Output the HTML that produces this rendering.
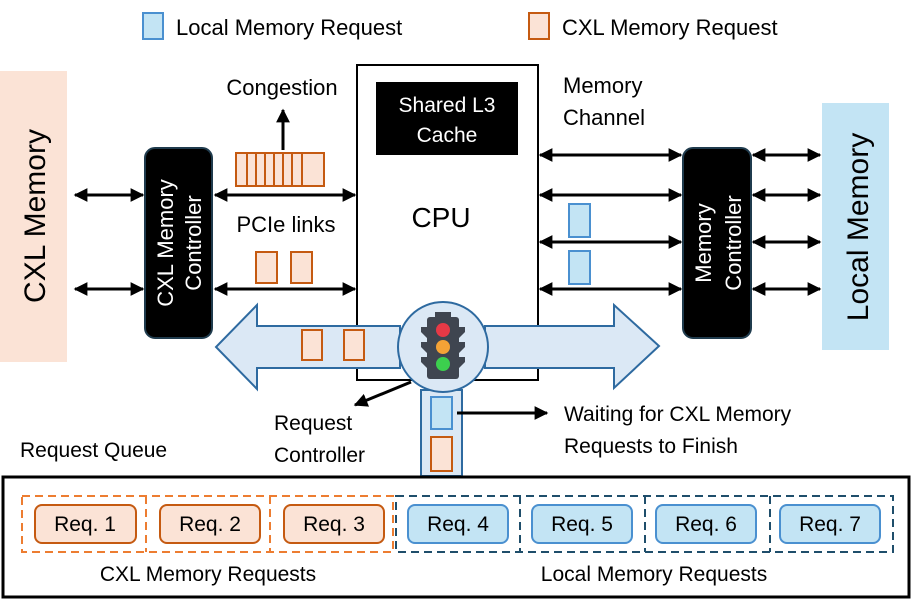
<!DOCTYPE html>
<html><head><meta charset="utf-8"><style>
body{margin:0;background:#fff}
svg{display:block;font-family:"Liberation Sans",sans-serif}
</style></head><body>
<svg width="913" height="604" viewBox="0 0 913 604" xmlns="http://www.w3.org/2000/svg">
<defs>
<marker id="a" viewBox="0 0 10 10" refX="9" refY="5" markerWidth="4.6" markerHeight="4.6" orient="auto-start-reverse"><path d="M0,0L10,5L0,10z" fill="#000"/></marker>
</defs>
<rect x="143" y="13" width="20" height="26" fill="#c3e4f4" stroke="#4a90d0" stroke-width="2"/>
<text x="176" y="35" font-size="22">Local Memory Request</text>
<rect x="529" y="13" width="20" height="26" fill="#fbe3d6" stroke="#c55a11" stroke-width="2"/>
<text x="562" y="35" font-size="22">CXL Memory Request</text>
<rect x="0" y="71" width="67" height="291" fill="#fbe3d6"/>
<text transform="translate(45,216) rotate(-90)" text-anchor="middle" font-size="30">CXL Memory</text>
<rect x="822" y="103" width="67" height="247" fill="#c3e4f4"/>
<text transform="translate(868,227) rotate(-90)" text-anchor="middle" font-size="30">Local Memory</text>
<rect x="145" y="148" width="67" height="190" rx="10" fill="#000" stroke="#1f3b4d" stroke-width="2"/>
<text transform="translate(173,243) rotate(-90)" text-anchor="middle" font-size="22" fill="#fff">CXL Memory</text>
<text transform="translate(201,243) rotate(-90)" text-anchor="middle" font-size="22" fill="#fff">Controller</text>
<rect x="683" y="148" width="68" height="190" rx="10" fill="#000" stroke="#1f3b4d" stroke-width="2"/>
<text transform="translate(711,243) rotate(-90)" text-anchor="middle" font-size="22" fill="#fff">Memory</text>
<text transform="translate(741,243) rotate(-90)" text-anchor="middle" font-size="22" fill="#fff">Controller</text>
<rect x="357" y="65" width="181" height="315" fill="#fff" stroke="#000" stroke-width="2"/>
<rect x="376" y="82" width="142" height="73" fill="#000"/>
<text x="447" y="112" text-anchor="middle" font-size="21" fill="#fff">Shared L3</text>
<text x="447" y="142" text-anchor="middle" font-size="21" fill="#fff">Cache</text>
<text x="441" y="227" text-anchor="middle" font-size="28">CPU</text>
<g stroke="#000" stroke-width="3" marker-start="url(#a)" marker-end="url(#a)">
<line x1="75" y1="195" x2="143" y2="195"/><line x1="75" y1="289" x2="143" y2="289"/>
<line x1="215" y1="195" x2="355" y2="195"/><line x1="215" y1="289" x2="355" y2="289"/>
<line x1="540" y1="155" x2="681" y2="155"/><line x1="540" y1="195" x2="681" y2="195"/>
<line x1="540" y1="242" x2="681" y2="242"/><line x1="540" y1="289" x2="681" y2="289"/>
<line x1="753" y1="155" x2="820" y2="155"/><line x1="753" y1="195" x2="820" y2="195"/>
<line x1="753" y1="242" x2="820" y2="242"/><line x1="753" y1="289" x2="820" y2="289"/>
</g>
<line x1="283" y1="150" x2="283" y2="110" stroke="#000" stroke-width="3" marker-end="url(#a)"/>
<text x="282" y="95" text-anchor="middle" font-size="22">Congestion</text>
<text x="563" y="93" font-size="22">Memory</text>
<text x="563" y="125" font-size="22">Channel</text>
<text x="286" y="232" text-anchor="middle" font-size="22">PCIe links</text>
<rect x="236" y="153" width="88" height="33" fill="#fbe3d6" stroke="#c55a11" stroke-width="2"/>
<g stroke="#c55a11" stroke-width="2"><line x1="247" y1="153" x2="247" y2="186"/><line x1="256" y1="153" x2="256" y2="186"/><line x1="265" y1="153" x2="265" y2="186"/><line x1="274" y1="153" x2="274" y2="186"/><line x1="283" y1="153" x2="283" y2="186"/><line x1="292" y1="153" x2="292" y2="186"/><line x1="302" y1="153" x2="302" y2="186"/></g>
<rect x="256" y="252" width="21" height="31" fill="#fbe3d6" stroke="#c55a11" stroke-width="2"/>
<rect x="291" y="252" width="21" height="31" fill="#fbe3d6" stroke="#c55a11" stroke-width="2"/>
<rect x="569" y="204" width="21" height="33" fill="#c3e4f4" stroke="#4a90d0" stroke-width="2"/>
<rect x="569" y="251" width="21" height="33" fill="#c3e4f4" stroke="#4a90d0" stroke-width="2"/>
<path d="M400,326 L257,326 L257,305 L216,347 L257,389 L257,368 L400,368 Z" fill="#dbe8f5" stroke="#2e6aa0" stroke-width="2"/>
<path d="M485,326 L614,326 L614,305 L659,346 L614,388 L614,368 L485,368 Z" fill="#dbe8f5" stroke="#2e6aa0" stroke-width="2"/>
<path d="M421,390 L421,476 L462,476 L462,390 Z" fill="#dbe8f5" stroke="#2e6aa0" stroke-width="2"/>
<circle cx="443" cy="347" r="45" fill="#dbe8f5" stroke="#2e6aa0" stroke-width="2"/>
<rect x="302" y="330" width="20" height="30" fill="#fbe3d6" stroke="#c55a11" stroke-width="2"/>
<rect x="344" y="330" width="20" height="30" fill="#fbe3d6" stroke="#c55a11" stroke-width="2"/>
<rect x="435" y="312" width="16" height="6" fill="#3f4550"/>
<path d="M421,327 L427,327 L427,338 L421,332Z M465,327 L459,327 L459,338 L465,332Z M421,342 L427,342 L427,353 L421,347Z M465,342 L459,342 L459,353 L465,347Z M421,357 L427,357 L427,368 L421,362Z M465,357 L459,357 L459,368 L465,362Z" fill="#3f4550"/>
<rect x="427" y="317" width="32" height="62" rx="3" fill="#3f4550"/>
<circle cx="443" cy="330" r="7" fill="#e63946"/>
<circle cx="443" cy="347" r="7" fill="#f4a236"/>
<circle cx="443" cy="364" r="7" fill="#3ccf4e"/>
<rect x="431" y="397" width="21" height="32" fill="#c3e4f4" stroke="#4a90d0" stroke-width="2"/>
<rect x="431" y="437" width="21" height="34" fill="#fbe3d6" stroke="#c55a11" stroke-width="2"/>
<line x1="411" y1="382" x2="355" y2="405" stroke="#000" stroke-width="3" marker-end="url(#a)"/>
<line x1="457" y1="413" x2="547" y2="413" stroke="#000" stroke-width="3" marker-end="url(#a)"/>
<text x="274" y="430" font-size="21">Request</text>
<text x="274" y="462" font-size="21">Controller</text>
<text x="564" y="421" font-size="21">Waiting for CXL Memory</text>
<text x="564" y="453" font-size="21">Requests to Finish</text>
<text x="20" y="457" font-size="21">Request Queue</text>
<rect x="3" y="477" width="906" height="120" fill="none" stroke="#000" stroke-width="3"/>
<g fill="none" stroke-width="2" stroke-dasharray="8,5">
<rect x="22" y="496" width="371" height="56" stroke="#ed7d31"/>
<line x1="146" y1="496" x2="146" y2="552" stroke="#ed7d31"/><line x1="270" y1="496" x2="270" y2="552" stroke="#ed7d31"/>
<rect x="396" y="496" width="497" height="56" stroke="#1f4e6b"/>
<line x1="520" y1="496" x2="520" y2="552" stroke="#1f4e6b"/><line x1="645" y1="496" x2="645" y2="552" stroke="#1f4e6b"/><line x1="770" y1="496" x2="770" y2="552" stroke="#1f4e6b"/>
</g>
<g font-size="21" text-anchor="middle">
<rect x="35" y="505" width="101" height="38" rx="7" fill="#fbe3d6" stroke="#c55a11" stroke-width="2"/><text x="85" y="531">Req. 1</text>
<rect x="160" y="505" width="100" height="38" rx="7" fill="#fbe3d6" stroke="#c55a11" stroke-width="2"/><text x="210" y="531">Req. 2</text>
<rect x="284" y="505" width="100" height="38" rx="7" fill="#fbe3d6" stroke="#c55a11" stroke-width="2"/><text x="334" y="531">Req. 3</text>
<rect x="408" y="505" width="100" height="38" rx="7" fill="#c3e4f4" stroke="#4a90d0" stroke-width="2"/><text x="458" y="531">Req. 4</text>
<rect x="532" y="505" width="100" height="38" rx="7" fill="#c3e4f4" stroke="#4a90d0" stroke-width="2"/><text x="582" y="531">Req. 5</text>
<rect x="656" y="505" width="100" height="38" rx="7" fill="#c3e4f4" stroke="#4a90d0" stroke-width="2"/><text x="706" y="531">Req. 6</text>
<rect x="780" y="505" width="100" height="38" rx="7" fill="#c3e4f4" stroke="#4a90d0" stroke-width="2"/><text x="830" y="531">Req. 7</text>
<text x="208" y="581">CXL Memory Requests</text>
<text x="654" y="581">Local Memory Requests</text>
</g>
</svg>
</body></html>
